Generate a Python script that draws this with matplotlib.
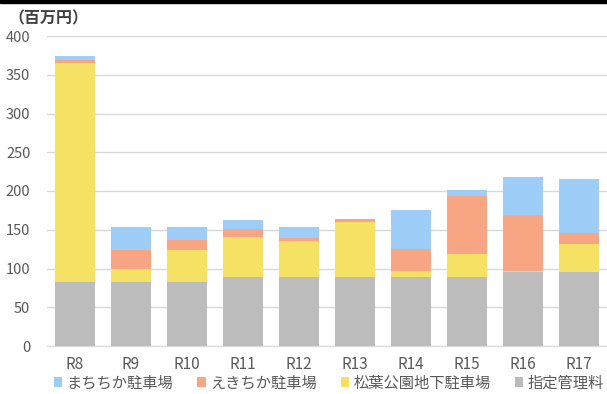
import matplotlib.pyplot as plt
from matplotlib.patches import Rectangle

plt.rcParams['font.family'] = ['Noto Sans CJK JP', 'DejaVu Sans']

# 年度別の費用内訳（百万円）
years = ['R8', 'R9', 'R10', 'R11', 'R12', 'R13', 'R14', 'R15', 'R16', 'R17']
shitei = [83, 82, 82, 89, 89, 89, 89, 89, 96, 96]          # 指定管理料
matsuba = [282, 18, 42, 52, 47, 71, 8, 30, 1, 36]          # 松葉公園地下駐車場
ekichika = [4, 24, 13, 10, 3, 4, 28, 74, 72, 14]           # えきちか駐車場
machichika = [5, 29, 16, 11, 14, 0, 51, 8, 49, 70]         # まちちか駐車場

series = [
    ('まちちか駐車場', machichika, '#9ecdf7'),
    ('えきちか駐車場', ekichika, '#f7a583'),
    ('松葉公園地下駐車場', matsuba, '#f5e264'),
    ('指定管理料', shitei, '#bcbcbc'),
]

fig = plt.figure(figsize=(6.07, 3.94), dpi=100)
ax = fig.add_axes([47 / 607, 1 - 346 / 394, 1 - 47 / 607, 310 / 394])

x = range(len(years))
bottom = [0] * len(years)
bars = {}
for name, vals, color in reversed(series):
    bars[name] = ax.bar(x, vals, width=0.7, bottom=bottom, color=color, zorder=2)
    bottom = [b + v for b, v in zip(bottom, vals)]

ax.set_xlim(-0.5, len(years) - 0.5)
ax.set_ylim(0, 400)
ax.set_yticks(range(0, 401, 50))
ax.set_xticks(list(x))
ax.set_xticklabels(years)
ax.grid(axis='y', color='#d9d9d9', linewidth=1, zorder=0)
for s in ['top', 'right', 'left']:
    ax.spines[s].set_visible(False)
ax.spines['bottom'].set_color('#d9d9d9')
ax.tick_params(axis='both', length=0, colors='#595959', labelsize=10.5)
ax.tick_params(axis='y', pad=12)
ax.tick_params(axis='x', pad=7, labelsize=11)

fig.text(8 / 607, 1 - 18 / 394, '（百万円）', fontsize=11.5, fontweight='bold',
         color='#404040', va='center', ha='left')

handles = [bars[name] for name, _, _ in series]
labels = [name for name, _, _ in series]
fig.legend(handles, labels, loc='center left', bbox_to_anchor=(40 / 607, 1 - 383 / 394),
           ncol=4, frameon=False, fontsize=11, handlelength=0.55, handleheight=0.55,
           handletextpad=0.3, columnspacing=1.55, labelcolor='#595959')

# 上端の黒帯
fig.add_artist(Rectangle((0, 1 - 2.5 / 394), 1, 2.5 / 394, transform=fig.transFigure,
                         color='black'))

fig.savefig('out.png', dpi=100)
